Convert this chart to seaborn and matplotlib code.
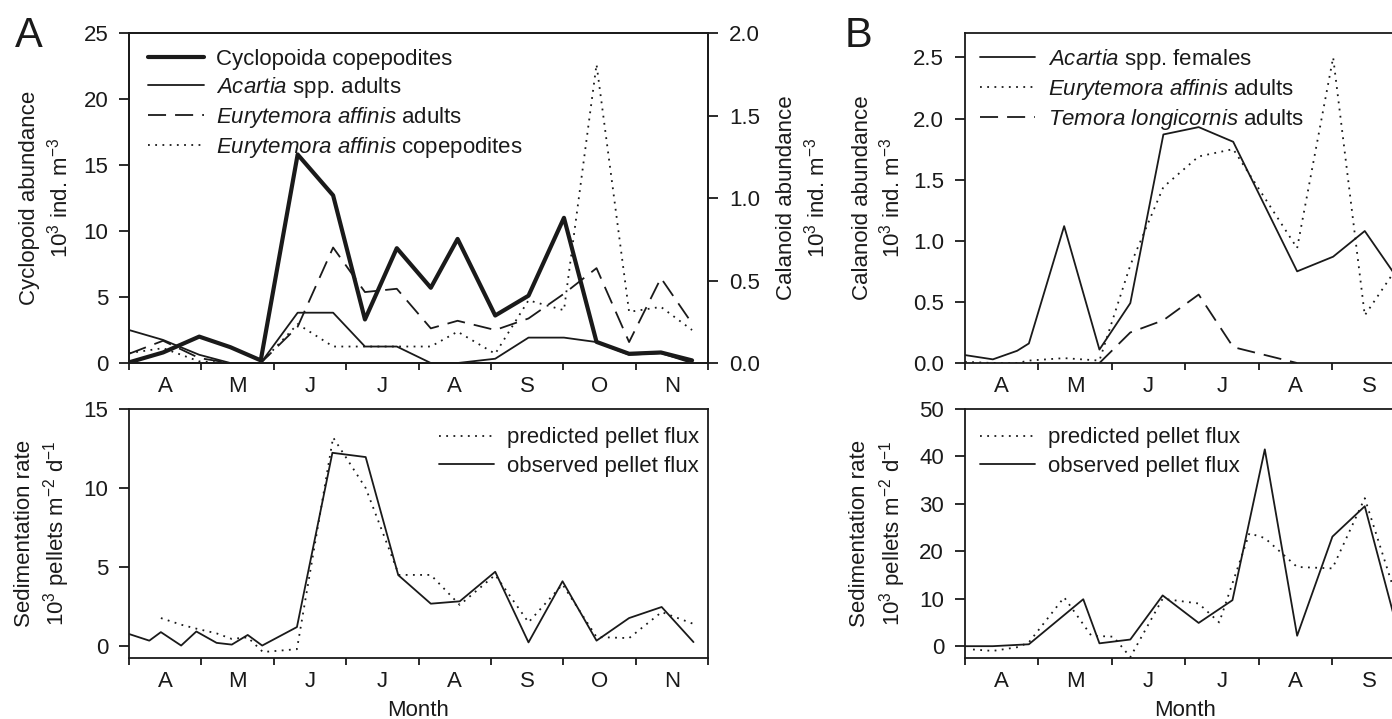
import numpy as np
import pandas as pd
import matplotlib
matplotlib.use('Agg')
import matplotlib.pyplot as plt
import seaborn as sns

# x values are months (4 = 1 April, 5 = 1 May, ...)

###panel A, abundance###
a_month = [4.00, 4.47, 4.97, 5.40, 5.82, 6.33, 6.82, 7.26, 7.70, 8.17, 8.54,
           9.06, 9.52, 10.01, 10.46, 10.91, 11.35, 11.78]
cyclopoida = [0.05, 0.8, 2.0, 1.2, 0.2, 15.8, 12.7, 3.3, 8.7, 5.7, 9.4,
              3.6, 5.1, 11.0, 1.6, 0.7, 0.8, 0.2]
acartia_adults = [0.20, 0.14, 0.05, 0.0, 0.0, 0.305, 0.305, 0.10, 0.10, 0.0, 0.0,
                  0.026, 0.154, 0.154, 0.127, 0.05, 0.06, 0.0]
eury_adults = [0.056, 0.135, 0.03, 0.0, 0.0, 0.22, 0.70, 0.43, 0.45, 0.21, 0.256,
               0.20, 0.27, 0.42, 0.575, 0.127, 0.515, 0.24]
eury_copepodites = [0.06, 0.09, 0.01, 0.0, 0.0, 0.236, 0.10, 0.10, 0.10, 0.10, 0.19,
                    0.056, 0.38, 0.32, 1.81, 0.31, 0.34, 0.20]

###panel A, pellet flux###
a_obs_month = [4.00, 4.28, 4.44, 4.72, 4.93, 5.21, 5.42, 5.64, 5.84, 6.32, 6.81,
               7.27, 7.72, 8.17, 8.57, 9.06, 9.52, 9.99, 10.46, 10.91, 11.36, 11.80]
a_observed = [0.76, 0.34, 0.88, 0.03, 0.92, 0.2, 0.09, 0.7, 0.03, 1.2, 12.23,
              11.96, 4.49, 2.68, 2.83, 4.7, 0.23, 4.1, 0.34, 1.77, 2.47, 0.25]
a_pred_month = [4.44, 4.72, 4.93, 5.21, 5.42, 5.64, 5.85, 6.32, 6.82, 7.27, 7.73,
                8.17, 8.57, 9.06, 9.52, 9.99, 10.46, 10.91, 11.36, 11.80]
a_predicted = [1.77, 1.35, 1.1, 0.8, 0.45, 0.55, -0.38, -0.2, 13.2, 10.0, 4.5,
               4.5, 2.6, 4.5, 1.5, 3.9, 0.57, 0.5, 2.15, 1.4]

###panel B, abundance###
b_month = [4.00, 4.38, 4.71, 4.87, 5.35, 5.83, 6.25, 6.70, 7.18, 7.65, 8.52,
           9.01, 9.44, 9.90]
acartia_females = [0.065, 0.03, 0.1, 0.16, 1.12, 0.11, 0.49, 1.87, 1.93, 1.81, 0.75,
                   0.87, 1.08, 0.68]
eury_adults_b = [0.01, 0.0, 0.0, 0.02, 0.04, 0.02, 0.8, 1.44, 1.69, 1.75, 0.94,
                 2.5, 0.39, 0.8]
temora_month = [5.83, 6.25, 6.70, 7.18, 7.65, 8.52]
temora_adults = [0.0, 0.25, 0.35, 0.56, 0.13, 0.0]

###panel B, pellet flux###
b_obs_month = [4.00, 4.38, 4.87, 5.61, 5.83, 6.25, 6.69, 7.18, 7.64, 8.08, 8.52,
               9.00, 9.44, 9.86]
b_observed = [0.0, 0.0, 0.4, 9.9, 0.6, 1.4, 10.7, 4.9, 9.7, 41.5, 2.2,
              23.1, 29.5, 5.0]
b_pred_month = [4.11, 4.38, 4.72, 4.87, 5.35, 5.72, 6.02, 6.25, 6.69, 7.18, 7.46,
                7.87, 8.08, 8.52, 9.00, 9.44, 9.86]
b_predicted = [-0.7, -1.0, -0.2, 0.8, 10.3, 2.2, 2.0, -2.3, 10.0, 9.0, 5.0,
               23.8, 22.8, 16.7, 16.4, 31.2, 10.8]

month_labels_a = ['A', 'M', 'J', 'J', 'A', 'S', 'O', 'N']
month_labels_b = ['A', 'M', 'J', 'J', 'A', 'S']

####STYLE####
sns.set_theme(style='ticks', rc={'axes.edgecolor': 'k', 'axes.linewidth': 1.3,
                                 'xtick.color': 'k', 'ytick.color': 'k',
                                 'text.color': 'k', 'axes.labelcolor': 'k'})
plt.rcParams['font.family'] = ['Liberation Sans', 'DejaVu Sans']
plt.rcParams['font.size'] = 16
plt.rcParams['axes.labelsize'] = 16
plt.rcParams['xtick.labelsize'] = 16
plt.rcParams['ytick.labelsize'] = 16
plt.rcParams['legend.fontsize'] = 16
plt.rcParams['mathtext.fontset'] = 'custom'
plt.rcParams['mathtext.rm'] = 'Liberation Sans'
plt.rcParams['mathtext.it'] = 'Liberation Sans:italic'

DASH = (0, (10, 5))
DOT = (0, (1, 3))
THIN = 1.3

ab_label = 'abundance\n10$^3$ ind. m$^{-3}$'
sed_label = 'Sedimentation rate\n10$^3$ pellets m$^{-2}$ d$^{-1}$'


def month_axis(ax, start, end, labels):
	'''month boundaries as ticks, month letters in between'''
	ax.set_xlim(start, end)
	ax.set_xticks(np.arange(start, end + 1))
	ax.set_xticklabels([])
	ax.set_xticks(np.arange(start, end) + 0.5, minor=True)
	ax.set_xticklabels(labels, minor=True)
	ax.tick_params(axis='x', which='major', length=5, width=1.3, direction='out')
	ax.tick_params(axis='x', which='minor', length=0, pad=9)
	ax.tick_params(axis='y', length=7, width=1.3, pad=8, direction='out')


def line(ax, x, y, label, lw=THIN, ls='-'):
	df = pd.DataFrame({'x': x, 'y': y})
	sns.lineplot(data=df, x='x', y='y', ax=ax, color='k', lw=lw, linestyle=ls,
	             label=label, legend=False)


def legend(ax, handles, labels, loc, anchor, spacing=0.23):
	ax.legend(handles, labels, loc=loc, bbox_to_anchor=anchor, frameon=False,
	          borderaxespad=0, borderpad=0, handlelength=2.5, handletextpad=0.55,
	          labelspacing=spacing)


fig = plt.figure(figsize=(13.92, 7.19), dpi=100)
ax_a = fig.add_axes([0.0927, 0.4951, 0.4159, 0.4590])
ax_a2 = ax_a.twinx()
ax_a_low = fig.add_axes([0.0927, 0.0848, 0.4159, 0.3463])
ax_b = fig.add_axes([0.6932, 0.4951, 0.3168, 0.4590])
ax_b_low = fig.add_axes([0.6932, 0.0848, 0.3168, 0.3463])

#A top: cyclopoids left, calanoids right
line(ax_a, a_month, cyclopoida, 'Cyclopoida copepodites', lw=3)
line(ax_a2, a_month, acartia_adults, r'$\mathit{Acartia}$ spp. adults')
line(ax_a2, a_month, eury_adults, r'$\mathit{Eurytemora\ affinis}$ adults', ls=DASH)
line(ax_a2, a_month, eury_copepodites, r'$\mathit{Eurytemora\ affinis}$ copepodites', ls=DOT)
month_axis(ax_a, 4, 12, month_labels_a)
ax_a.set_ylim(0, 25)
ax_a.set_yticks([0, 5, 10, 15, 20, 25])
ax_a2.set_ylim(0, 2.0)
ax_a2.set_yticks([0.0, 0.5, 1.0, 1.5, 2.0])
ax_a2.set_yticklabels(['0.0', '0.5', '1.0', '1.5', '2.0'])
ax_a2.tick_params(axis='y', length=7, width=1.3, pad=8, direction='out')
ax_a.set_xlabel('')
ax_a.set_ylabel('Cyclopoid ' + ab_label, linespacing=1.3, labelpad=8)
ax_a2.set_ylabel('Calanoid ' + ab_label, linespacing=1.3, labelpad=12)
h1, l1 = ax_a.get_legend_handles_labels()
h2, l2 = ax_a2.get_legend_handles_labels()
legend(ax_a2, h1 + h2, l1 + l2, 'upper left', (0.033, 0.953))

#A bottom: pellet flux
line(ax_a_low, a_pred_month, a_predicted, 'predicted pellet flux', ls=DOT)
line(ax_a_low, a_obs_month, a_observed, 'observed pellet flux')
month_axis(ax_a_low, 4, 12, month_labels_a)
ax_a_low.set_ylim(-0.76, 15)
ax_a_low.set_yticks([0, 5, 10, 15])
ax_a_low.set_ylabel(sed_label, linespacing=1.3, labelpad=8)
ax_a_low.set_xlabel('Month', labelpad=6)
h, l = ax_a_low.get_legend_handles_labels()
legend(ax_a_low, h, l, 'upper right', (0.984, 0.926), spacing=0.35)

#B top
line(ax_b, b_month, acartia_females, r'$\mathit{Acartia}$ spp. females')
line(ax_b, b_month, eury_adults_b, r'$\mathit{Eurytemora\ affinis}$ adults', ls=DOT)
line(ax_b, temora_month, temora_adults, r'$\mathit{Temora\ longicornis}$ adults', ls=DASH)
month_axis(ax_b, 4, 10, month_labels_b)
ax_b.set_ylim(0, 2.7)
ax_b.set_yticks([0.0, 0.5, 1.0, 1.5, 2.0, 2.5])
ax_b.set_yticklabels(['0.0', '0.5', '1.0', '1.5', '2.0', '2.5'])
ax_b.set_xlabel('')
ax_b.set_ylabel('Calanoid ' + ab_label, linespacing=1.3, labelpad=6)
h, l = ax_b.get_legend_handles_labels()
legend(ax_b, h, l, 'upper left', (0.034, 0.959))

#B bottom
line(ax_b_low, b_pred_month, b_predicted, 'predicted pellet flux', ls=DOT)
line(ax_b_low, b_obs_month, b_observed, 'observed pellet flux')
month_axis(ax_b_low, 4, 10, month_labels_b)
ax_b_low.set_ylim(-2.5, 50)
ax_b_low.set_yticks([0, 10, 20, 30, 40, 50])
ax_b_low.set_ylabel(sed_label, linespacing=1.3, labelpad=8)
ax_b_low.set_xlabel('Month', labelpad=6)
h, l = ax_b_low.get_legend_handles_labels()
legend(ax_b_low, h, l, 'upper left', (0.034, 0.926), spacing=0.35)

#panel letters
fig.text(0.011, 0.935, 'A', fontsize=30)
fig.text(0.607, 0.935, 'B', fontsize=30)

fig.savefig('out.png', dpi=100)
